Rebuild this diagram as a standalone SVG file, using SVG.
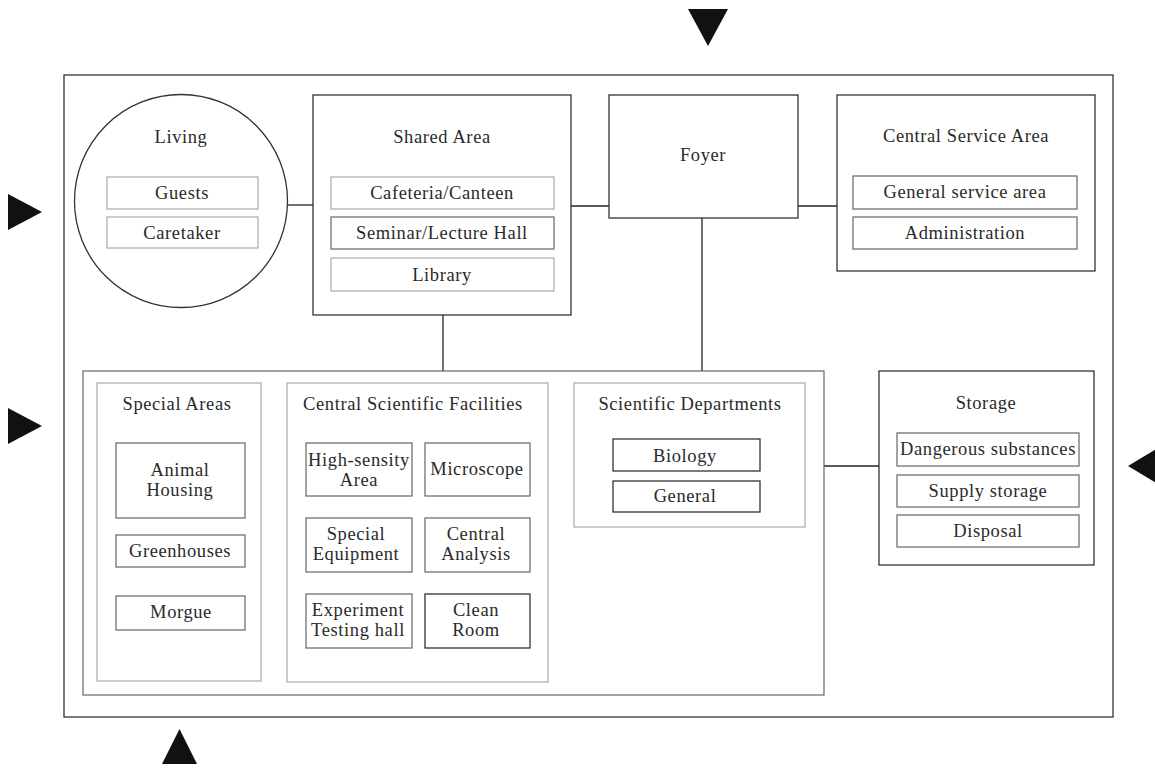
<svg xmlns="http://www.w3.org/2000/svg" width="1155" height="769" viewBox="0 0 1155 769">
<style>
text{font-family:"Liberation Serif","DejaVu Serif",serif;font-size:18.5px;letter-spacing:0.6px;fill:#2a2a2a;text-anchor:middle;dominant-baseline:central}
.b{fill:#fff;stroke:#333;stroke-width:1.3}
.m{fill:#fff;stroke:#666;stroke-width:1.2}
.l{fill:#fff;stroke:#aaa;stroke-width:1.2}
.c{stroke:#222;stroke-width:1.3;fill:none}
.t{fill:#111}
</style>
<rect width="1155" height="769" fill="#fff"/>
<g id="triangles">
<polygon class="t" points="688,9 728,9 708,46"/>
<polygon class="t" points="8,194 42,212 8,230"/>
<polygon class="t" points="8,408 42,426 8,444"/>
<polygon class="t" points="1128,466 1158,448 1158,484"/>
<polygon class="t" points="162,764 197,764 179.5,729"/>
</g>
<rect id="outer" x="64" y="75" width="1049" height="642" class="b"/>
<g id="connectors">
<line class="c" x1="287" y1="205" x2="313" y2="205"/>
<line class="c" x1="571" y1="206" x2="609" y2="206"/>
<line class="c" x1="798" y1="206" x2="837" y2="206"/>
<line class="c" x1="443" y1="315" x2="443" y2="371"/>
<line class="c" x1="702" y1="218" x2="702" y2="371"/>
<line class="c" x1="824" y1="466" x2="879" y2="466"/>
</g>
<g id="living">
<circle cx="181" cy="201" r="106.5" class="b" stroke-width="1"/>
<text x="181" y="137">Living</text>
<rect x="107" y="177" width="151" height="32" class="l"/>
<text x="182" y="193">Guests</text>
<rect x="107" y="217" width="151" height="31" class="l"/>
<text x="182" y="233">Caretaker</text>
</g>
<g id="shared">
<rect x="313" y="95" width="258" height="220" class="b"/>
<text x="442" y="137">Shared Area</text>
<rect x="331" y="177" width="223" height="32" class="l"/>
<text x="442" y="193">Cafeteria/Canteen</text>
<rect x="331" y="217" width="223" height="32" class="m"/>
<text x="442" y="233">Seminar/Lecture Hall</text>
<rect x="331" y="258" width="223" height="33" class="l"/>
<text x="442" y="275">Library</text>
</g>
<g id="foyer">
<rect x="609" y="95" width="189" height="123" class="b"/>
<text x="703" y="155">Foyer</text>
</g>
<g id="central-service">
<rect x="837" y="95" width="258" height="176" class="b"/>
<text x="966" y="136">Central Service Area</text>
<rect x="853" y="176" width="224" height="33" class="m"/>
<text x="965" y="192">General service area</text>
<rect x="853" y="217" width="224" height="32" class="m"/>
<text x="965" y="233">Administration</text>
</g>
<g id="research">
<rect x="83" y="371" width="741" height="324" class="m"/>
</g>
<g id="special-areas">
<rect x="97" y="383" width="164" height="298" class="l"/>
<text x="177" y="404">Special Areas</text>
<rect x="116" y="443" width="129" height="75" class="m"/>
<text x="180" y="470">Animal</text>
<text x="180" y="490">Housing</text>
<rect x="116" y="535" width="129" height="32" class="m"/>
<text x="180" y="551">Greenhouses</text>
<rect x="116" y="596" width="129" height="34" class="m"/>
<text x="181" y="612">Morgue</text>
</g>
<g id="central-scientific">
<rect x="287" y="383" width="261" height="299" class="l"/>
<text x="413" y="404">Central Scientific Facilities</text>
<rect x="306" y="443" width="106" height="53" class="m"/>
<text x="359" y="460">High-sensity</text>
<text x="359" y="480">Area</text>
<rect x="425" y="443" width="105" height="53" class="m"/>
<text x="477" y="469">Microscope</text>
<rect x="306" y="518" width="106" height="54" class="m"/>
<text x="356" y="534">Special</text>
<text x="356" y="554">Equipment</text>
<rect x="425" y="518" width="105" height="54" class="m"/>
<text x="476" y="534">Central</text>
<text x="476" y="554">Analysis</text>
<rect x="306" y="594" width="106" height="54" class="m"/>
<text x="358" y="610">Experiment</text>
<text x="358" y="630">Testing hall</text>
<rect x="425" y="594" width="105" height="54" class="b"/>
<text x="476" y="610">Clean</text>
<text x="476" y="630">Room</text>
</g>
<g id="scientific-departments">
<rect x="574" y="383" width="231" height="144" class="l"/>
<text x="690" y="404">Scientific Departments</text>
<rect x="613" y="439" width="147" height="32" class="b"/>
<text x="685" y="456">Biology</text>
<rect x="613" y="481" width="147" height="31" class="b"/>
<text x="685" y="496">General</text>
</g>
<g id="storage">
<rect x="879" y="371" width="215" height="194" class="b"/>
<text x="986" y="403">Storage</text>
<rect x="897" y="433" width="182" height="33" class="m"/>
<text x="988" y="449">Dangerous substances</text>
<rect x="897" y="475" width="182" height="32" class="m"/>
<text x="988" y="491">Supply storage</text>
<rect x="897" y="515" width="182" height="32" class="m"/>
<text x="988" y="531">Disposal</text>
</g>
</svg>
